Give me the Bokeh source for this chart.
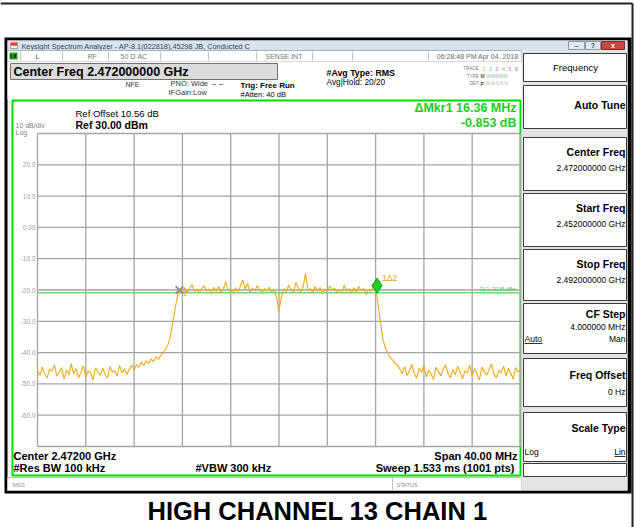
import numpy as np
from bokeh.plotting import figure
from bokeh.models import Range1d
from bokeh.embed import file_html
from bokeh.resources import INLINE
from bokeh.core.properties import value

# ---------------- data ----------------
left_floor = [-45.8, -47.2, -44.6, -46.9, -48.1, -45.3, -46.0, -43.9, -47.5, -46.2,
              -44.8, -48.4, -45.6, -47.0, -43.5, -46.8, -45.1, -48.0, -46.4, -44.2,
              -47.7, -45.9, -46.6, -48.7, -44.9, -46.1, -47.3, -45.0, -46.9, -48.2,
              -44.4, -46.3, -45.7, -47.6, -44.1, -46.5, -45.2, -47.1]
left_skirt = [-45.3, -44.0, -45.6, -43.8, -44.7, -43.1, -44.2, -42.6, -43.5, -42.0,
              -42.9, -41.4, -42.2, -40.9,
              -40.2, -38.9, -37.6, -34.8, -30.5, -25.9, -21.8]
plateau = [-19.8, -20.6, -19.2, -20.9, -19.5, -18.3, -20.4, -19.7, -21.0, -19.4,
           -18.7, -20.2, -19.9, -21.3, -19.1, -20.5, -18.9, -20.8, -19.6, -17.4,
           -20.3, -19.8, -21.1, -19.3, -20.6, -18.8, -16.8, -19.7, -17.9, -20.9,
           -19.4, -20.3, -18.6, -19.9, -21.0, -19.5, -20.4, -19.1, -20.7, -19.8,
           -22.4, -26.8, -22.1, -19.6, -20.5, -18.4, -19.9, -20.8, -17.6, -19.3,
           -20.6, -19.0, -14.6, -20.2, -19.5, -20.9, -18.9, -20.4, -19.2, -21.2,
           -19.7, -20.5, -18.7, -20.0, -19.4, -21.0, -19.8, -20.6, -18.5, -20.3,
           -19.6, -21.1, -19.3, -20.7, -18.8, -20.2, -19.5, -21.4, -19.9, -20.4,
           -19.0, -18.6]
right_skirt = [-24.5, -30.2, -35.6, -38.4, -40.1, -41.6, -42.3, -43.4, -44.0]
right_floor = [-45.2, -46.8, -44.5, -47.3, -45.9, -43.8, -46.6, -48.2, -45.0, -46.3,
               -44.1, -47.8, -45.6, -46.9, -48.6, -44.7, -46.0, -47.4, -45.3, -43.9,
               -46.7, -48.0, -45.5, -47.1, -44.4, -46.2, -48.4, -45.8, -46.5, -44.0,
               -47.6, -45.1, -46.9, -48.8, -44.6, -46.1, -47.2, -45.4, -43.6, -46.8,
               -48.1, -45.7, -46.4, -44.3, -47.5, -45.0, -46.6, -48.5, -44.8, -46.2,
               -45.5]
level_dbm = left_floor + left_skirt + plateau + right_skirt + right_floor
start_ghz, stop_ghz = 2.452, 2.492
freq_ghz = np.linspace(start_ghz, stop_ghz, len(level_dbm))

ref_level, bottom_level = 30.0, -70.0
x_div_ghz = [2.452, 2.456, 2.460, 2.464, 2.468, 2.472, 2.476, 2.480, 2.484, 2.488, 2.492]
y_div_dbm = [30, 20, 10, 0, -10, -20, -30, -40, -50, -60, -70]
y_tick_vals = [20, 10, 0, -10, -20, -30, -40, -50, -60]
y_tick_labels = ["20.0", "10.0", "0.00", "-10.0", "-20.0", "-30.0", "-40.0", "-50.0", "-60.0"]
marker_freq = [2.48012, 2.46376]
marker_level = [-18.6, -20.0]
display_line_dbm = -20.85

# ---------------- layout ----------------
W, H = 634, 527
OX, OY = 0, 0
GX0, GX1, GY0, GY1 = 37, 520, 133, 446   # graticule box in window px
kx = (stop_ghz - start_ghz) / (GX1 - GX0)
ky = (ref_level - bottom_level) / (GY1 - GY0)

p = figure(width=W, height=H, output_backend="svg", toolbar_location=None,
           x_axis_type=None, y_axis_type=None, min_border=0,
           x_range=Range1d(start_ghz - (GX0 - OX) * kx, stop_ghz + (OX + W - GX1) * kx),
           y_range=Range1d(bottom_level - (OY + H - GY1) * ky, ref_level + (GY0 - OY) * ky))
p.outline_line_color = None
p.background_fill_color = "white"
p.border_fill_color = "white"
p.extra_x_ranges = {"px": Range1d(OX, OX + W)}
p.extra_y_ranges = {"px": Range1d(OY + H, OY)}

FONT = "Liberation Sans"
PX = dict(x_range_name="px", y_range_name="px")


def box(l, t, r, b, fill, line=None, lw=1):
    p.quad(left=[l], right=[r], top=[t], bottom=[b], fill_color=fill,
           line_color=line, line_width=lw, **PX)


def hline(x0, x1, y, color, lw=1):
    p.segment(x0=[x0], y0=[y], x1=[x1], y1=[y], line_color=color, line_width=lw, **PX)


def vline(x, y0, y1, color, lw=1):
    p.segment(x0=[x], y0=[y0], x1=[x], y1=[y1], line_color=color, line_width=lw, **PX)


def txt(x, y, s, size=8, color="black", bold=False, align="left", font=FONT):
    p.text(x=[x], y=[y], text=[s], text_font=value(font), text_font_size=f"{size}px",
           text_font_style="bold" if bold else "normal", text_color=color,
           text_align=align, text_baseline="middle", **PX)


# outer page border lines
hline(0, 632, 3, "#222222", 2)
vline(632, 3, 527, "#222222", 2)

# screenshot frame
box(4, 37, 631, 493, "black")
box(7, 40, 627, 490, "#f4f4f4")

# window title bar
box(7, 40, 627, 50, "#d6e2ee")
box(10, 42, 17, 45, "#e23a2a")
box(10, 45, 17, 48, "#ffffff", "#999999")
txt(21, 45.5, "Keysight Spectrum Analyzer - AP-8.1(022818),45298 JB, Conducted C", 7.3, "#334455")
box(568, 41, 584, 49, "#dfe7ef", "#8899aa")
box(585, 41, 600, 49, "#dfe7ef", "#8899aa")
box(601, 41, 624, 49, "#c9483c", "#8a2a22")
txt(576, 45, "–", 7, "#333333", align="center")
txt(592.5, 45, "?", 6.5, "#333333", True, "center")
txt(612.5, 45, "x", 7, "white", True, "center")

# status row
box(7, 50, 521, 61, "white", "#b0b0b0")
for sx in [20, 62, 108, 160, 208, 256, 312, 352, 428]:
    vline(sx, 51, 60, "#c4c4c4")
box(9, 52, 17, 59, "#22aa22")
txt(13, 55.5, "LX", 5, "black", True, "center")
txt(35, 55.5, "L", 7, "#555555")
txt(87, 55.5, "RF", 7, "#777777")
txt(120, 55.5, "50 \u03a9   AC", 7, "#777777")
txt(265, 55.5, "SENSE:INT", 7, "#777777")
txt(518, 55.5, "06:28:48 PM Apr 04, 2018", 7, "#666666", align="right")

# header area
box(7, 61, 521, 99, "white")
box(10, 63, 277, 79, "#dcdcdc", "#707070")
txt(13, 71, "Center Freq 2.472000000 GHz", 12.5, "black", True)
txt(125, 84, "NFE", 7, "#333333")
txt(170, 83, "PNO: Wide  \u2192\u2190", 7.5, "#333333")
txt(168, 92, "IFGain:Low", 7.5, "#333333")
txt(240, 85, "Trig: Free Run", 8, "black", True)
txt(240, 94, "#Atten: 40 dB", 7.5, "black")
txt(326, 72, "#Avg Type: RMS", 8.8, "black", True)
txt(326, 81, "Avg|Hold: 20/20", 8.3, "black")
txt(478, 68, "TRACE", 4.5, "#777777", align="right")
for k, col in enumerate(["#e0c000", "#30c0e8", "#ee55cc", "#44cc44", "#ee6699", "#6677ee"]):
    txt(482 + k * 6.5, 68, str(k + 1), 5, col)
txt(478, 75.5, "TYPE", 4.5, "#777777", align="right")
txt(480, 75.5, "M", 5, "black")
txt(486, 75.5, "WWWWW", 4.5, "#a0b8a0")
txt(478, 83, "DET", 4.5, "#777777", align="right")
txt(480, 83, "P", 5, "black")
txt(486, 83, "N N N N N", 4.5, "#a0b8a0")

# display area with green border
box(12, 100, 520, 475, "white", "#00dd00", 2)
txt(75, 113, "Ref Offset 10.56 dB", 9.5, "black")
txt(75, 124, "Ref 30.00 dBm", 10.5, "black", True)
txt(15, 125, "10 dB/div", 7, "#808080")
txt(15, 132, "Log", 7, "#808080")
txt(516, 107, "\u0394Mkr1 16.36 MHz", 12.5, "#22cc22", True, "right")
txt(516, 122, "-0.853 dB", 12.5, "#22cc22", True, "right")

# graticule (data coordinates)
p.segment(x0=x_div_ghz, y0=[bottom_level] * len(x_div_ghz), x1=x_div_ghz,
          y1=[ref_level] * len(x_div_ghz), line_color="#a4a4a4", line_width=1.3)
p.segment(x0=[start_ghz] * len(y_div_dbm), y0=y_div_dbm, x1=[stop_ghz] * len(y_div_dbm),
          y1=y_div_dbm, line_color="#a4a4a4", line_width=1.3)
p.text(x=[35] * len(y_tick_vals), y=y_tick_vals, text=y_tick_labels, x_range_name="px",
       text_font=value(FONT), text_font_size="6.5px", text_color="#9a9a9a",
       text_align="right", text_baseline="middle")

# display line
p.segment(x0=[start_ghz], y0=[display_line_dbm], x1=[stop_ghz], y1=[display_line_dbm],
          line_color="#66e066", line_width=1.5)
txt(516, 288, "DL1 -20.85 dBm", 5, "#44cc44", align="right")

# trace
p.line(freq_ghz, level_dbm, line_color="#f0aa18", line_width=1.1)

# markers
p.scatter([marker_freq[1]], [marker_level[1]], marker="x", size=11, line_color="#909090", line_width=2)
p.scatter([marker_freq[0]], [marker_level[0]], marker="diamond", size=15, fill_color="#22cc22",
          line_color="#119911")
p.text(x=[marker_freq[0]], y=[marker_level[0]], text=["1\u03942"], x_offset=5, y_offset=-3,
       text_font=value(FONT), text_font_size="8.5px", text_color="#e0a010", text_baseline="bottom")
p.text(x=[marker_freq[1]], y=[marker_level[1]], text=["2"], x_offset=4, y_offset=1,
       text_font=value(FONT), text_font_size="7px", text_color="#e0a010", text_baseline="top")

# bottom annotation
txt(13, 455, "Center 2.47200 GHz", 11, "black", True)
txt(517, 455, "Span 40.00 MHz", 11, "black", True, "right")
txt(13, 467, "#Res BW 100 kHz", 11, "black", True)
txt(195, 467, "#VBW 300 kHz", 11, "black", True)
txt(517, 467, "Sweep  1.533 ms (1001 pts)", 11, "black", True, "right")

# message row
box(7, 477, 521, 490, "white", "#c0c0c0")
vline(392, 477, 490, "#c0c0c0")
txt(12, 484, "MSG", 5.5, "#888888")
txt(396, 484, "STATUS", 5.5, "#888888")

# softkey panel
box(521, 50, 627, 490, "#e4e4e4")
keys = [
    (53, 81, [("Frequency", 67, 9.5, False, "center")]),
    (85, 128, [("Auto Tune", 104, 10.5, True, "right")]),
    (137, 190, [("Center Freq", 151, 10.5, True, "right"), ("2.472000000 GHz", 167, 8.5, False, "right")]),
    (193, 246, [("Start Freq", 207, 10.5, True, "right"), ("2.452000000 GHz", 223, 8.5, False, "right")]),
    (249, 300, [("Stop Freq", 263, 10.5, True, "right"), ("2.492000000 GHz", 279, 8.5, False, "right")]),
    (303, 353, [("CF Step", 313, 10.5, True, "right"), ("4.000000 MHz", 326, 8.5, False, "right"),
                ("Man", 338, 8.5, False, "right")]),
    (358, 406, [("Freq Offset", 374, 10.5, True, "right"), ("0 Hz", 391, 8.5, False, "right")]),
    (412, 461, [("Scale Type", 427, 10.5, True, "right"), ("Lin", 451, 8.5, False, "right")]),
    (463, 476, []),
]
for top, bot, items in keys:
    box(523, top, 626, bot, "white", "#3a3a3a")
    for s, y, sz, b, al in items:
        xx = 575 if al == "center" else 625
        txt(xx, y, s, sz, "black", b, al)
txt(524, 338, "Auto", 8.5, "black")
hline(524, 542, 343, "black", 0.8)
txt(524, 451, "Log", 8.5, "black")
hline(614, 625, 456, "black", 0.8)

# caption
txt(317, 510, "HIGH CHANNEL 13 CHAIN 1", 25.5, "black", True, "center")

open("out.html", "w").write(file_html(p, INLINE))
